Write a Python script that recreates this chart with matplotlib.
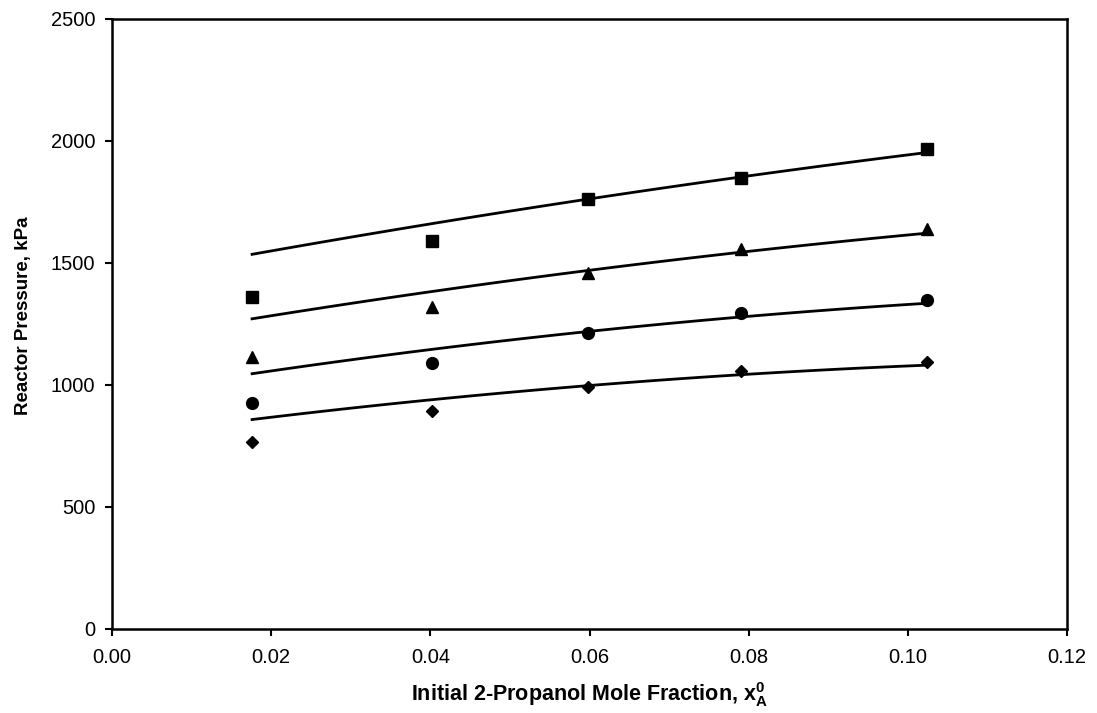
import matplotlib
matplotlib.use("Agg")
import matplotlib.pyplot as plt
import numpy as np

plt.rcParams['font.family'] = ['Liberation Sans', 'DejaVu Sans']
plt.rcParams['mathtext.fontset'] = 'custom'
plt.rcParams['mathtext.rm'] = 'Liberation Sans'
plt.rcParams['mathtext.bf'] = 'Liberation Sans:bold'
plt.rcParams['mathtext.it'] = 'Liberation Sans:italic'

# Data
x_frac = [0.0176, 0.0402, 0.0598, 0.0790, 0.1024]
p_square = [1361, 1591, 1761, 1850, 1966]
p_triangle = [1116, 1321, 1458, 1556, 1638]
p_circle = [926, 1091, 1212, 1294, 1348]
p_diamond = [768, 895, 991, 1057, 1093]

# Model curves (at the same x values)
m_square = [1533, 1667, 1761, 1848, 1955]
m_triangle = [1270, 1389, 1460, 1550, 1621]
m_circle = [1045, 1150, 1215, 1280, 1335]
m_diamond = [857, 945, 991, 1045, 1081]

x_ticks = [0.00, 0.02, 0.04, 0.06, 0.08, 0.10, 0.12]
y_ticks = [0, 500, 1000, 1500, 2000, 2500]

fig = plt.figure(figsize=(10.97, 7.13), dpi=100)
ax = fig.add_axes([112/1097, 84/713, (1067-112)/1097, (629-19)/713])

# smooth trend curves through the read model values
xs = np.linspace(min(x_frac), max(x_frac), 100)
for m in (m_square, m_triangle, m_circle, m_diamond):
    coef = np.polyfit(x_frac, m, 2)
    ax.plot(xs, np.polyval(coef, xs), color='black', lw=2.0, zorder=2)

ax.plot(x_frac, p_square, ls='none', marker='s', ms=8, color='black', zorder=3)
ax.plot(x_frac, p_triangle, ls='none', marker='^', ms=8.5, color='black', zorder=3)
ax.plot(x_frac, p_circle, ls='none', marker='o', ms=8.5, color='black', zorder=3)
ax.plot(x_frac, p_diamond, ls='none', marker='D', ms=6.5, color='black', zorder=3)

ax.set_xlim(0, 0.12)
ax.set_ylim(0, 2500)
ax.set_xticks(x_ticks)
ax.set_xticklabels([f"{v:.2f}" for v in x_ticks])
ax.set_yticks(y_ticks)
ax.set_yticklabels([str(v) for v in y_ticks])

for s in ax.spines.values():
    s.set_linewidth(1.8)
    s.set_color('black')
ax.tick_params(axis='both', direction='out', length=5, width=1.5, labelsize=14.5, colors='black')
ax.tick_params(axis='x', pad=9)
ax.tick_params(axis='y', pad=7)

ax.set_xlabel(r"Initial 2-Propanol Mole Fraction, $\mathbf{x_A^0}$", fontsize=15.5, fontweight='bold', labelpad=9)
ax.set_ylabel("Reactor Pressure, kPa", fontsize=13.5, fontweight='bold', labelpad=12)
ax.yaxis.set_label_coords(-0.084, 0.513)

fig.savefig("out.png", dpi=100)
